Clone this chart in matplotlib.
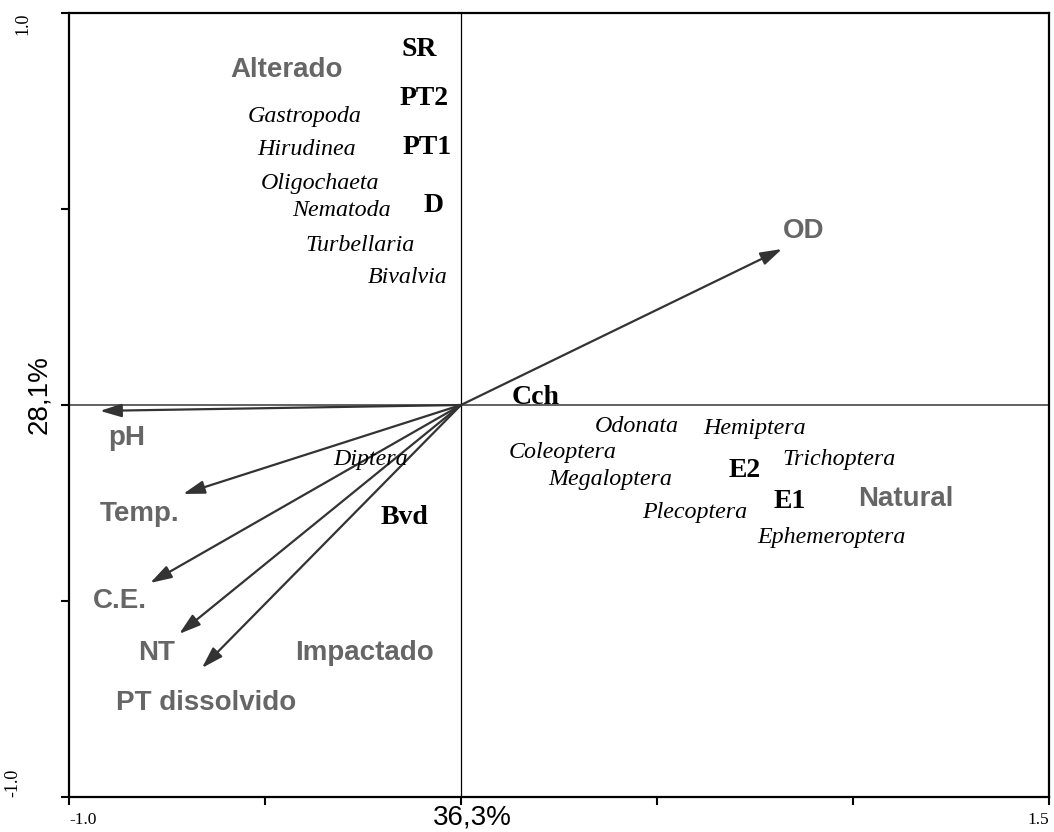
import matplotlib
matplotlib.use("Agg")
import matplotlib.pyplot as plt

# Axis explained variance
x_axis_label = "36,3%"
y_axis_label = "28,1%"

# Environmental vectors (biplot arrows)
env_names = ["OD", "pH", "Temp.", "C.E.", "NT", "PT dissolvido"]
env_x = [0.819, -0.921, -0.709, -0.793, -0.719, -0.661]
env_y = [0.398, -0.015, -0.227, -0.454, -0.584, -0.671]
env_label_x = [0.875, -0.852, -0.821, -0.870, -0.776, -0.651]
env_label_y = [0.444, -0.084, -0.278, -0.500, -0.633, -0.760]

# Sampling sites
site_names = ["SR", "PT2", "PT1", "D", "Cch", "Bvd", "E2", "E1"]
site_x = [-0.107, -0.094, -0.087, -0.071, 0.191, -0.145, 0.724, 0.839]
site_y = [0.906, 0.783, 0.658, 0.508, 0.018, -0.286, -0.166, -0.247]

# Macroinvertebrate taxa
taxa_names = ["Gastropoda", "Hirudinea", "Oligochaeta", "Nematoda", "Turbellaria",
              "Bivalvia", "Diptera", "Odonata", "Hemiptera", "Coleoptera",
              "Trichoptera", "Megaloptera", "Plecoptera", "Ephemeroptera"]
taxa_x = [-0.398, -0.393, -0.360, -0.306, -0.258, -0.135, -0.230, 0.449, 0.750,
          0.260, 0.964, 0.380, 0.597, 0.946]
taxa_y = [0.735, 0.653, 0.566, 0.495, 0.406, 0.324, -0.138, -0.056, -0.061,
          -0.122, -0.138, -0.191, -0.273, -0.337]

# Group labels
group_names = ["Alterado", "Impactado", "Natural"]
group_x = [-0.446, -0.247, 1.135]
group_y = [0.855, -0.633, -0.240]

SERIF = "Liberation Serif"
SANS = "Liberation Sans"
GRAY = "#666666"
ARROW = "#333333"

fig = plt.figure(figsize=(10.54, 8.32), dpi=100)
ax = fig.add_axes([69 / 1054, 35 / 832, 980 / 1054, 784 / 832])
ax.set_xlim(-1.0, 1.5)
ax.set_ylim(-1.0, 1.0)

for sp in ax.spines.values():
    sp.set_linewidth(1.6)
    sp.set_color("black")

ax.set_xticks([-1.0, -0.5, 0.0, 0.5, 1.0, 1.5])
ax.set_xticklabels(["-1.0", "", "", "", "", "1.5"], family=SERIF, fontsize=12.5)
xt = ax.get_xticklabels()
xt[0].set_ha("left")
xt[-1].set_ha("right")
ax.set_yticks([-1.0, -0.5, 0.0, 0.5, 1.0])
ax.set_yticklabels([])
ax.tick_params(direction="out", length=6, width=1.5, pad=5)

# y tick labels, rotated
ax.text(-0.047, 1.0, "1.0", transform=ax.get_yaxis_transform(), rotation=90,
        ha="center", va="top", family=SERIF, fontsize=13, clip_on=False)
ax.text(-0.057, -1.0, "-1.0", transform=ax.get_yaxis_transform(), rotation=90,
        ha="center", va="bottom", family=SERIF, fontsize=13, clip_on=False)

# axis titles
ax.text((472 - 69) / 980, (797 - 818) / 784, x_axis_label, transform=ax.transAxes,
        ha="center", va="center", family=SANS, fontsize=20, clip_on=False)
ax.text((39 - 69) / 980, (797 - 395) / 784, y_axis_label, transform=ax.transAxes,
        rotation=90, ha="center", va="center", family=SANS, fontsize=20, clip_on=False)

# origin cross lines
ax.axvline(0, color="black", lw=0.9, zorder=1)
ax.axhline(0, color="#555555", lw=1.3, zorder=1)

# environmental arrows
for name, x, y, lx, ly in zip(env_names, env_x, env_y, env_label_x, env_label_y):
    ax.annotate("", xy=(x, y), xytext=(0, 0),
                arrowprops=dict(arrowstyle="-|>,head_length=0.65,head_width=0.2",
                                color=ARROW, lw=1.6, mutation_scale=20,
                                shrinkA=0, shrinkB=0))
    ax.text(lx, ly, name, ha="center", va="center", family=SANS,
            fontweight="bold", fontsize=20, color=GRAY)

for name, x, y in zip(group_names, group_x, group_y):
    ax.text(x, y, name, ha="center", va="center", family=SANS,
            fontweight="bold", fontsize=20, color=GRAY)

for name, x, y in zip(site_names, site_x, site_y):
    ax.text(x, y, name, ha="center", va="center", family=SERIF,
            fontweight="bold", fontsize=20, color="black")

for name, x, y in zip(taxa_names, taxa_x, taxa_y):
    ax.text(x, y, name, ha="center", va="center", family=SERIF,
            style="italic", fontsize=17.3, color="black")

fig.savefig("out.png", dpi=100)
